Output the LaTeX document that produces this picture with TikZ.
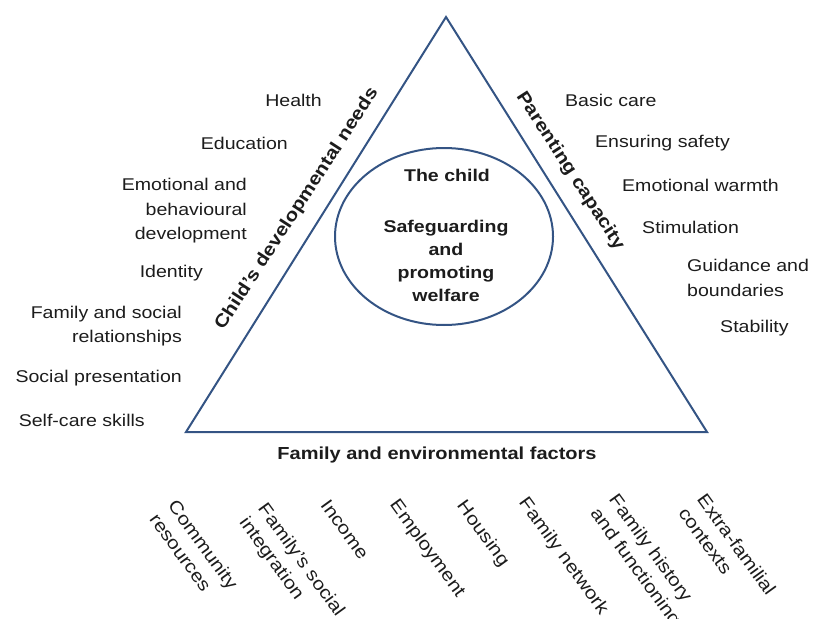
\documentclass[tikz,border=0pt]{standalone}
\usepackage{fontspec}
\setmainfont[FakeStretch=1.15]{Liberation Sans}
\definecolor{triblue}{RGB}{52,84,132}
\definecolor{txtgray}{RGB}{28,28,28}
\tikzset{
  needlabel/.style={anchor=east, align=right, inner sep=0pt, text=txtgray, font=\fontsize{17}{24.5}\selectfont},
  carelabel/.style={needlabel, anchor=west, align=left},
  factorlabel/.style={anchor=north west, align=left, inner sep=0pt, rotate=-54, text=txtgray, font=\fontsize{18}{23}\selectfont},
  sidelabel/.style={inner sep=0pt, text=txtgray, font=\bfseries\fontsize{18}{22}\selectfont},
  corelabel/.style={align=center, inner sep=0pt, text=txtgray, font=\bfseries\fontsize{17}{23}\selectfont},
  triline/.style={draw=triblue, line width=2pt, line join=miter}
}
\begin{document}
\begin{tikzpicture}[x=1pt, y=-1pt]
\useasboundingbox (0,0) rectangle (813,618);
% triangle and ellipse
\coordinate (apex) at (446,17);
\coordinate (left) at (186,432);
\coordinate (right) at (707,432);
\coordinate (core) at (444,236.5);
\draw[triline] (apex) -- (right) -- (left) -- cycle;
\draw[triline] (core) ellipse [x radius=109, y radius=88.5];
\node[corelabel] (child) at (447,175) {The child}; % centre
\node[corelabel] (welfare) at (446,261) {Safeguarding\\and\\promoting\\welfare}; % centre
% sides
\node[sidelabel, rotate=57] (needs) at (297,209) {Child's developmental needs}; % left side
\node[sidelabel, rotate=-57] (capacity) at (570,171) {Parenting capacity}; % right side
\node[sidelabel, font=\bfseries\fontsize{17.4}{22}\selectfont] (factors) at (437,455) {Family and environmental factors}; % base
% developmental needs
\node[needlabel] (health) at (322,100) {Health};
\node[needlabel] (education) at (288,143) {Education};
\node[needlabel] (emotional) at (247,211) {Emotional and\\behavioural\\development};
\node[needlabel] (identity) at (203,273) {Identity};
\node[needlabel] (relations) at (182,326) {Family and social\\relationships};
\node[needlabel] (presentation) at (182,378) {Social presentation};
\node[needlabel] (selfcare) at (145,420) {Self-care skills};
% parenting capacity
\node[carelabel] (basic) at (565,100) {Basic care};
\node[carelabel] (safety) at (595,143) {Ensuring safety};
\node[carelabel] (warmth) at (622,185) {Emotional warmth};
\node[carelabel] (stimulation) at (642,227) {Stimulation};
\node[carelabel] (guidance) at (687,278) {Guidance and\\boundaries};
\node[carelabel] (stability) at (720,328) {Stability};
% family and environmental factors
\node[factorlabel] (community) at (178,498) {Community\\resources};
\node[factorlabel] (integration) at (268,501) {Family's social\\integration};
\node[factorlabel] (income) at (330,498) {Income};
\node[factorlabel] (employment) at (400,497) {Employment};
\node[factorlabel] (housing) at (467,498) {Housing};
\node[factorlabel] (network) at (529,495) {Family network};
\node[factorlabel] (history) at (619,492) {Family history\\and functioning};
\node[factorlabel] (contexts) at (707,492) {Extra-familial\\contexts};
\end{tikzpicture}
\end{document}
